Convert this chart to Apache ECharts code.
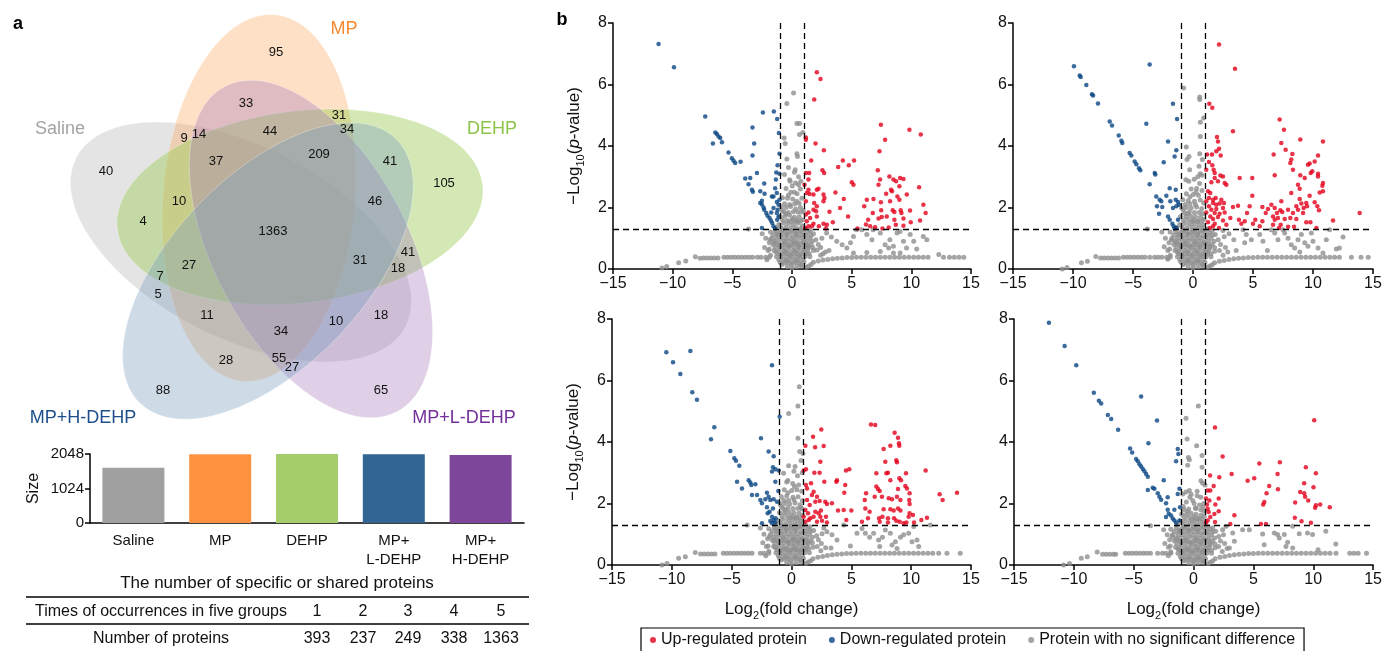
<!DOCTYPE html>
<html>
<head>
<meta charset="utf-8">
<script src="https://cdn.jsdelivr.net/npm/echarts@6/dist/echarts.min.js"></script>
<style>
  html, body { margin: 0; padding: 0; background: #fff; }
  #chart { width: 1385px; height: 651px; }
</style>
</head>
<body>
<div id="chart"></div>
<script>
// ---------- panel a data ----------
const vennSets = ['Saline', 'MP', 'DEHP', 'MP+L-DEHP', 'MP+H-DEHP'];
const vennCounts = [95, 33, 31, 34, 9, 14, 44, 37, 209, 41, 105, 40, 10, 46, 4, 1363, 27, 31, 41, 18, 7, 5, 11, 34, 10, 18, 28, 55, 27, 88, 65];
const barCategories = ['Saline', 'MP', 'DEHP', 'MP+\nL-DEHP', 'MP+\nH-DEHP'];
const barSizes = [1640, 2040, 2075, 2040, 2015];
const sizeTicks = [0, 1024, 2048];
const occurrenceTimes = [1, 2, 3, 4, 5];
const proteinCounts = [393, 237, 249, 338, 1363];

// ---------- panel b data (log2 fold change, -log10 p) ----------
const tlDown = [[-11.18,7.32],[-9.89,6.56],[-7.27,4.96],[-6.43,4.44],[-6.29,4.39],[-6.15,4.31],[-6.01,4.26],[-5.87,4.12],[-6.63,4.08],[-5.32,3.79],[-5.04,3.6],[-4.9,3.52],[-4.76,3.45],[-4.31,3.49],[-3.92,2.94],[-3.64,2.76],[-3.5,2.96],[-3.36,2.58],[-3.28,2.51],[-3.31,4.6],[-3.17,4.08],[-3.31,3.69],[-2.94,3.12],[-2.44,5.09],[-1.52,5.12],[-1.24,4.88],[-1.1,4.42],[-1.05,3.75],[-1.21,3.37],[-1.32,3.14],[-1.05,3.1],[-1.35,2.91],[-2.66,2.53],[-2.33,2.78],[-2.3,2.45],[-2.52,2.22],[-2.66,2.15],[-2.52,2.1],[-2.38,2.0],[-2.33,1.93],[-2.16,1.82],[-2.05,1.73],[-1.88,1.66],[-1.77,1.58],[-1.66,1.5],[-1.55,1.39],[-2.52,1.33],[-1.41,1.32],[-1.27,2.18],[-1.55,2.36],[-1.69,2.36],[-1.27,2.47],[-1.13,2.09],[-1.27,1.82],[-1.13,1.71],[-1.05,2.25],[-1.41,2.63],[-1.55,1.98],[-1.74,1.84],[-1.21,1.93],[-1.24,1.6]];
const tlUp = [[2.08,6.4],[2.39,6.18],[1.86,5.51],[1.16,4.28],[1.16,4.2],[1.97,4.08],[2.67,3.86],[1.61,3.53],[1.16,3.12],[1.44,3.12],[2.55,3.21],[2.69,3.12],[1.38,2.91],[1.05,2.74],[1.38,2.58],[2.22,2.61],[2.08,2.58],[2.64,2.42],[2.72,2.31],[2.64,2.2],[1.8,2.42],[1.47,2.44],[1.24,2.47],[1.16,2.2],[1.86,2.15],[2.08,2.04],[1.8,1.93],[1.38,1.84],[2.02,1.88],[1.16,1.77],[1.52,1.66],[2.08,1.71],[1.24,1.55],[1.8,1.47],[1.38,1.39],[1.1,1.33],[1.66,1.39],[2.25,1.39],[2.64,1.47],[2.83,1.32],[2.92,1.44],[3.14,1.86],[3.42,1.52],[3.64,2.49],[3.87,3.32],[4.03,1.98],[4.26,3.53],[4.34,2.28],[4.7,1.71],[4.76,3.37],[5.01,2.82],[5.15,2.74],[5.2,3.53],[5.49,1.32],[6.05,2.04],[6.27,2.25],[6.38,1.6],[6.55,1.39],[6.77,1.82],[6.83,2.28],[6.96,1.36],[7.19,3.21],[7.25,2.74],[7.38,2.91],[7.45,2.17],[7.45,4.69],[7.33,3.83],[7.47,1.91],[7.25,1.64],[7.52,1.69],[7.58,1.32],[7.8,4.2],[7.89,2.45],[7.94,1.71],[8.16,3.01],[8.22,2.2],[8.3,2.58],[8.38,2.53],[8.44,1.91],[8.5,2.91],[8.58,1.6],[8.7,1.44],[8.72,2.85],[8.58,1.85],[8.83,2.36],[9.0,2.69],[9.06,2.96],[9.0,2.25],[9.11,1.91],[9.17,1.82],[9.34,2.93],[9.34,1.64],[9.34,1.41],[9.84,4.53],[9.89,1.9],[9.95,1.52],[10.65,2.66],[10.73,1.58],[10.79,4.37],[11.01,2.09],[11.2,1.82],[9.62,2.42],[8.1,1.35],[6.2,1.45]];
const tlGray = [[0.13,5.72],[-0.43,5.38],[0.41,4.73],[0.63,4.73],[0.63,4.37],[0.91,4.44],[-0.66,4.26],[-0.57,4.08],[0.41,3.75],[0.46,3.66],[-0.43,3.58],[0.27,3.23],[-0.63,3.07],[-0.15,2.85],[0.74,2.85],[0.55,2.74],
  [-0.3,3.3],[0.2,3.15],[0.55,3.0],[-0.2,2.9],[0.3,2.8],[0.7,2.6],[-0.5,2.62],[0.02,2.7],[-0.1,2.5],[0.42,2.45],[-0.8,2.32],[-0.38,2.3],[0.05,2.28],[0.4,2.2],[0.82,2.3],[-0.9,2.02],[-0.5,2.0],[-0.12,2.03],[0.3,1.95],[0.7,2.0],[0.95,1.9],[-0.62,2.12],[-0.2,2.1],[0.22,2.12],[0.6,2.14],
  [-1.0,1.7],[-0.6,1.72],[-0.2,1.75],[0.2,1.68],[0.6,1.7],[0.9,1.6],[-0.8,1.6],[-0.4,1.58],[0.02,1.62],[0.42,1.58],[-1.1,1.45],[-0.7,1.5],[-0.3,1.48],[0.1,1.45],[0.5,1.5],[0.85,1.4],[-0.7,1.86],[-0.3,1.84],[0.12,1.86],[0.5,1.85],
  [-1.3,1.35],[-0.9,1.34],[-0.5,1.36],[-0.1,1.33],[0.3,1.35],[0.7,1.32],[-1.8,1.2],[-1.4,1.22],[-1.0,1.2],[-0.6,1.25],[-0.2,1.2],[0.2,1.22],[0.6,1.2],[1.0,1.18],[1.4,1.2],[1.8,1.15],[-1.6,1.1],[-1.2,1.1],[-0.8,1.12],[-0.4,1.1],[0.02,1.08],[0.4,1.1],[0.8,1.1],[1.2,1.1],[1.6,1.08],
  [-1.7,1.0],[-1.3,1.0],[-0.9,1.02],[-0.5,1.0],[-0.1,0.98],[0.3,1.0],[0.7,1.02],[1.1,1.0],[1.5,1.0],[2.0,0.95],[-1.5,0.9],[-1.1,0.9],[-0.7,0.92],[-0.3,0.9],[0.1,0.9],[0.5,0.88],[0.9,0.9],[1.3,0.9],[1.7,0.9],
  [-1.6,0.8],[-1.2,0.8],[-0.8,0.78],[-0.4,0.8],[0.0,0.8],[0.4,0.82],[0.8,0.8],[1.2,0.8],[1.6,0.8],[-1.4,0.7],[-1.0,0.7],[-0.6,0.7],[-0.2,0.72],[0.2,0.7],[0.6,0.7],[1.0,0.68],[1.4,0.7],
  [-1.5,0.6],[-1.1,0.6],[-0.7,0.6],[-0.3,0.6],[0.1,0.6],[0.5,0.6],[0.9,0.6],[1.3,0.6],[1.8,0.6],[-1.2,0.5],[-0.8,0.5],[-0.4,0.5],[0.0,0.5],[0.4,0.5],[0.8,0.5],[1.2,0.5],
  [-1.3,0.4],[-0.9,0.4],[-0.5,0.4],[-0.1,0.4],[0.3,0.4],[0.7,0.4],[1.1,0.4],[1.5,0.4],[-1.1,0.3],[-0.7,0.3],[-0.3,0.3],[0.1,0.3],[0.5,0.3],[0.9,0.3],[-1.0,0.22],[-0.6,0.2],[-0.2,0.2],[0.2,0.2],[0.6,0.2],[1.0,0.24],[-0.4,0.08],[0.0,0.04],[0.4,0.08],[0.8,0.1],[1.2,0.06],[1.4,0.1],[1.6,0.15],
  [-1.85,0.95],[-1.45,0.85],[-1.05,0.75],[-0.65,0.85],[-0.25,0.75],[0.15,0.85],[0.55,0.75],[0.95,0.85],[1.35,0.75],[1.75,0.7],[2.2,0.8],[2.5,1.0],[-1.35,0.55],[-0.95,0.45],[-0.55,0.55],[-0.15,0.45],[0.25,0.55],[0.65,0.45],[1.05,0.55],[1.45,0.5],[-0.85,0.15],[-0.45,0.25],[-0.05,0.15],[0.35,0.25],[0.75,0.15],[-1.25,1.15],[-0.85,1.25],[-0.45,1.15],[-0.05,1.25],[0.35,1.15],[0.75,1.25],[1.15,1.3],[1.55,1.25],[-0.5,1.8],[-0.1,1.55],[0.3,1.55],[0.7,1.55],[-0.3,2.4],[0.2,2.5],[-0.85,1.9],[0.8,1.85],[2.4,0.45],[2.8,0.55],[-2.1,0.3],[-1.9,0.65],[2.1,0.62],
  [-3.64,1.3],[-2.5,1.15],[-2.2,1.0],[-1.9,0.85],[-2.0,0.6],[-1.8,0.45],[-2.3,0.7],
  [-10.9,0.03],[-10.5,0.08],[-9.5,0.2],[-8.9,0.26],[-8.1,0.4],[-7.7,0.35],[-7.4,0.36],[-7.1,0.36],[-6.8,0.36],[-6.5,0.36],[-6.2,0.36],[-5.7,0.38],[-5.4,0.38],[-5.1,0.38],[-4.8,0.38],[-4.5,0.38],[-4.2,0.38],[-3.9,0.38],[-3.6,0.38],[-3.3,0.38],[-2.9,0.38],[-2.6,0.38],[-2.2,0.38],[-1.9,0.38],
  [1.8,0.22],[2.2,0.26],[2.6,0.29],[3.0,0.31],[3.4,0.33],[3.8,0.35],[4.2,0.36],[4.6,0.37],[5.0,0.37],[5.4,0.38],[5.8,0.38],[6.2,0.38],[6.6,0.38],[7.0,0.38],[7.4,0.38],[7.8,0.38],[8.2,0.38],[8.6,0.38],[9.0,0.38],[9.4,0.38],[9.8,0.38],[10.2,0.38],[10.6,0.38],[11.0,0.38],[11.4,0.38],[12.3,0.47],[12.7,0.38],[13.2,0.38],[13.6,0.38],[14.0,0.38],[14.4,0.38],
  [2.9,1.17],[3.3,1.04],[3.75,0.9],[4.2,0.79],[4.6,0.68],[4.9,0.85],[5.15,1.06],[5.4,1.28],[5.85,1.28],[6.27,1.12],[6.7,0.95],[6.8,1.28],[7.4,1.17],[7.8,0.79],[8.1,0.68],[8.2,0.95],[8.5,0.74],[8.8,1.17],[9.06,1.22],[9.34,0.9],[9.6,0.68],[9.9,1.12],[10.2,0.9],[10.45,0.65],[11.0,1.06],[11.3,0.95],[9.06,0.52],[7.4,0.57],[6.27,0.54],[5.15,0.52],[8.5,0.52],[2.4,0.7],[2.6,0.5],[3.1,0.6]];

const trDown = [[-9.92,6.59],[-9.44,6.29],[-9.36,6.24],[-8.89,5.98],[-8.42,5.68],[-8.33,5.64],[-7.92,5.38],[-6.94,4.8],[-6.75,4.67],[-6.19,4.34],[-5.97,4.17],[-5.89,4.1],[-5.28,3.77],[-5.14,3.69],[-4.86,3.5],[-4.72,3.41],[-4.5,3.28],[-4.39,3.21],[-3.61,6.65],[-3.89,4.72],[-3.19,3.12],[-3.14,3.07],[-3.61,2.76],[-2.44,3.47],[-2.08,4.15],[-1.67,5.37],[-1.33,4.88],[-1.39,3.86],[-1.53,3.66],[-1.94,2.63],[-1.44,2.58],[-3.06,2.36],[-2.78,2.25],[-2.64,2.2],[-2.56,2.02],[-3.0,2.04],[-2.83,1.8],[-2.22,2.38],[-1.89,2.2],[-1.44,2.25],[-1.25,2.18],[-1.17,2.09],[-1.67,1.98],[-2.08,1.71],[-1.94,1.6],[-1.72,1.47],[-1.61,1.39],[-1.53,1.32],[-1.39,1.34],[-1.25,1.6],[-1.39,2.04]];
const trUp = [[2.17,7.3],[3.5,6.51],[1.36,5.37],[1.61,5.24],[7.22,4.86],[3.33,4.48],[7.58,4.53],[8.94,4.21],[10.83,4.15],[2.0,4.29],[2.08,4.15],[7.36,4.1],[7.72,3.88],[1.17,3.72],[1.58,3.72],[2.17,3.91],[1.94,3.83],[2.31,3.69],[6.72,3.72],[8.28,3.74],[10.42,3.69],[8.19,3.56],[8.11,3.45],[10.14,3.5],[1.33,3.48],[1.61,3.37],[1.72,3.23],[9.72,3.43],[9.58,3.39],[1.11,3.23],[8.33,3.23],[1.81,3.12],[9.94,3.18],[9.81,3.12],[10.42,3.1],[10.42,3.01],[6.81,3.05],[8.94,3.05],[2.28,3.04],[2.5,3.01],[1.81,2.96],[3.89,2.96],[4.94,2.96],[9.31,2.96],[10.83,2.8],[10.78,2.71],[2.64,2.8],[2.78,2.74],[2.08,2.85],[1.53,2.82],[8.75,2.74],[8.89,2.61],[10.83,2.53],[10.56,2.49],[1.25,2.53],[1.44,2.47],[8.19,2.47],[1.33,2.31],[4.94,2.38],[9.72,2.38],[8.89,2.28],[1.67,2.25],[1.89,2.31],[2.36,2.25],[1.11,2.2],[7.36,2.2],[9.44,2.15],[9.03,2.13],[10.14,2.17],[1.67,2.15],[1.94,2.09],[2.22,2.13],[2.58,2.15],[1.33,2.04],[5.78,2.02],[6.53,2.09],[10.36,2.04],[8.61,2.04],[9.5,2.04],[1.53,1.93],[1.94,1.95],[2.5,1.98],[3.33,2.02],[3.75,2.06],[4.72,2.04],[6.25,1.95],[6.81,1.98],[7.28,1.91],[7.92,1.93],[8.75,1.93],[9.22,1.98],[1.11,1.84],[1.81,1.82],[2.22,1.8],[2.64,1.84],[4.5,1.82],[6.06,1.82],[7.0,1.82],[7.44,1.85],[8.33,1.82],[9.17,1.82],[10.5,1.91],[13.89,1.82],[1.44,1.71],[1.67,1.63],[2.08,1.69],[2.5,1.58],[3.11,1.66],[3.83,1.6],[4.31,1.55],[5.19,1.6],[5.78,1.55],[6.67,1.71],[6.81,1.6],[7.08,1.66],[7.64,1.63],[8.11,1.66],[8.61,1.63],[9.44,1.52],[9.78,1.52],[11.67,1.58],[1.25,1.52],[1.81,1.47],[2.78,1.44],[4.03,1.47],[5.0,1.47],[6.67,1.44],[7.31,1.44],[7.92,1.37],[8.42,1.37],[10.28,1.33],[1.39,1.33],[1.67,1.39],[2.17,1.33],[5.56,1.39],[7.17,1.33]];
const trGray = [[-0.78,5.89],[0.56,5.59],[0.56,5.51],[0.89,4.91],[0.61,4.77],[0.61,4.31],[0.56,3.75],[-0.56,3.97],[-0.33,3.66],[-0.5,3.56],[0.78,3.56],[0.5,3.34],[-0.28,3.23],[0.6,3.1],[0.4,3.0],[-0.6,2.9],[0.75,3.05],
  [-0.35,2.85],[0.1,2.92],[0.55,2.78],[-0.15,2.6],[0.3,2.62],[0.75,2.55],[-0.55,2.45],[0.02,2.42],[0.45,2.4],[-0.85,2.25],[-0.4,2.22],[0.12,2.2],[0.6,2.24],[0.9,2.15],[-0.95,1.98],[-0.55,2.0],[-0.15,1.98],[0.3,2.02],[0.72,1.96],[-0.65,2.1],[-0.25,2.12],[0.2,2.1],[-0.7,1.82],[-0.3,1.86],[0.12,1.84],[0.52,1.84],
  [-1.05,1.7],[-0.6,1.7],[-0.2,1.72],[0.2,1.7],[0.62,1.68],[0.92,1.62],[-0.8,1.58],[-0.4,1.6],[0.0,1.6],[0.42,1.56],[-1.1,1.45],[-0.7,1.48],[-0.3,1.46],[0.1,1.47],[0.5,1.45],[0.86,1.42],
  [-1.35,1.34],[-0.9,1.35],[-0.5,1.33],[-0.1,1.36],[0.3,1.34],[0.7,1.33],[-1.9,1.2],[-1.45,1.22],[-1.0,1.2],[-0.6,1.22],[-0.2,1.2],[0.2,1.2],[0.6,1.22],[1.0,1.2],[1.4,1.18],[1.85,1.12],[-1.6,1.1],[-1.2,1.1],[-0.8,1.1],[-0.4,1.12],[0.0,1.1],[0.4,1.1],[0.8,1.08],[1.2,1.1],[1.6,1.1],
  [-1.75,1.0],[-1.3,1.0],[-0.9,1.0],[-0.5,1.02],[-0.1,1.0],[0.3,1.0],[0.7,1.0],[1.1,1.02],[1.5,1.0],[2.1,0.95],[-1.5,0.9],[-1.1,0.9],[-0.7,0.9],[-0.3,0.92],[0.1,0.9],[0.5,0.9],[0.9,0.88],[1.3,0.9],[1.75,0.9],
  [-1.6,0.8],[-1.2,0.8],[-0.8,0.8],[-0.4,0.78],[0.0,0.8],[0.4,0.8],[0.8,0.82],[1.2,0.8],[1.6,0.8],[-1.4,0.7],[-1.0,0.7],[-0.6,0.72],[-0.2,0.7],[0.2,0.7],[0.6,0.7],[1.0,0.7],[1.4,0.68],
  [-1.5,0.6],[-1.1,0.6],[-0.7,0.6],[-0.3,0.6],[0.1,0.62],[0.5,0.6],[0.9,0.6],[1.3,0.6],[1.8,0.58],[-1.2,0.5],[-0.8,0.5],[-0.4,0.5],[0.0,0.5],[0.4,0.5],[0.8,0.5],[1.2,0.5],
  [-1.3,0.4],[-0.9,0.4],[-0.5,0.4],[-0.1,0.4],[0.3,0.4],[0.7,0.4],[1.1,0.4],[1.5,0.4],[-1.1,0.3],[-0.7,0.3],[-0.3,0.3],[0.1,0.3],[0.5,0.3],[0.9,0.3],[-1.0,0.22],[-0.6,0.2],[-0.2,0.2],[0.2,0.2],[0.6,0.2],[1.0,0.22],[-0.4,0.08],[0.0,0.04],[0.4,0.08],[0.8,0.1],[1.2,0.06],[1.4,0.1],[1.6,0.14],
  [-1.8,0.95],[-1.4,0.85],[-1.0,0.75],[-0.6,0.85],[-0.2,0.75],[0.2,0.85],[0.6,0.75],[1.0,0.85],[1.4,0.75],[1.8,0.7],[2.3,0.8],[2.6,1.05],[-1.3,0.55],[-0.9,0.45],[-0.5,0.55],[-0.1,0.45],[0.3,0.55],[0.7,0.45],[1.1,0.55],[1.5,0.5],[-0.8,0.15],[-0.4,0.25],[0.0,0.15],[0.4,0.25],[0.8,0.15],[-1.2,1.15],[-0.8,1.25],[-0.4,1.15],[0.0,1.25],[0.4,1.15],[0.8,1.25],[1.2,1.3],[1.6,1.25],[-0.45,1.8],[-0.05,1.55],[0.35,1.55],[0.75,1.55],[-0.25,2.35],[0.25,2.5],[-0.8,1.92],[0.82,1.8],[2.5,0.45],[2.9,0.55],[-2.1,0.32],[-1.95,0.65],[2.2,0.6],
  [-3.8,1.3],[-2.6,1.2],[-2.3,1.0],[-2.0,0.85],[-2.1,0.6],[-1.9,0.45],[-2.4,0.72],
  [-10.9,0.0],[-10.5,0.05],[-9.3,0.2],[-8.8,0.25],[-8.1,0.41],[-7.7,0.36],[-7.4,0.36],[-7.1,0.36],[-6.8,0.36],[-6.5,0.36],[-6.2,0.36],[-5.8,0.38],[-5.5,0.38],[-5.2,0.38],[-4.9,0.38],[-4.6,0.38],[-4.3,0.38],[-4.0,0.38],[-3.6,0.38],[-3.2,0.38],[-2.9,0.38],[-2.6,0.38],[-2.2,0.38],[-1.9,0.38],
  [1.8,0.2],[2.2,0.25],[2.6,0.28],[3.0,0.31],[3.4,0.33],[3.8,0.35],[4.2,0.36],[4.6,0.37],[5.0,0.37],[5.4,0.38],[5.8,0.38],[6.2,0.38],[6.6,0.38],[7.0,0.38],[7.4,0.38],[7.8,0.38],[8.2,0.38],[8.6,0.38],[9.0,0.38],[9.4,0.38],[9.8,0.38],[10.2,0.38],[10.6,0.38],[11.0,0.38],[11.4,0.38],[11.8,0.38],[12.2,0.38],[13.2,0.38],[14.0,0.38],[14.6,0.38],
  [4.17,1.28],[4.44,1.12],[4.31,0.85],[4.86,0.95],[5.56,1.12],[5.83,0.9],[6.53,1.28],[6.81,1.17],[7.08,0.95],[7.5,1.28],[7.64,1.17],[7.92,1.0],[8.19,0.79],[8.47,0.68],[8.75,0.95],[9.03,1.12],[9.31,0.85],[9.58,0.74],[9.86,1.17],[10.0,0.9],[10.42,0.68],[10.83,0.52],[11.39,1.28],[11.11,0.95],[11.94,0.65],[12.5,1.04],[12.2,0.68],[3.0,1.15],[3.4,0.95],[2.5,1.25],[2.7,0.7],[3.6,0.6],[6.2,0.6],[8.9,0.55]];

const blDown = [[-10.46,6.92],[-9.9,6.59],[-8.45,6.96],[-9.29,6.21],[-8.29,5.62],[-7.9,5.37],[-6.45,4.48],[-6.73,4.09],[-5.11,3.71],[-4.78,3.47],[-4.64,3.39],[-4.36,3.23],[-4.55,2.71],[-4.14,2.49],[-3.58,2.76],[-3.44,2.68],[-3.36,2.6],[-3.02,2.63],[-3.3,2.28],[-2.88,2.28],[-2.55,4.12],[-1.91,3.69],[-1.63,6.5],[-0.99,4.82],[-1.49,3.54],[-1.55,3.18],[-1.35,3.11],[-1.07,3.07],[-1.63,3.04],[-1.35,2.71],[-1.1,2.41],[-2.05,2.35],[-1.91,2.22],[-2.19,2.14],[-2.6,2.11],[-2.47,2.01],[-1.77,2.11],[-1.49,2.14],[-1.21,2.06],[-2.05,1.88],[-1.55,1.84],[-1.83,1.73],[-1.99,1.68],[-2.47,1.36],[-1.63,1.57],[-1.49,1.46],[-1.77,1.43],[-1.35,1.38],[-1.63,1.36],[-1.32,1.52]];
const blUp = [[1.8,4.17],[2.49,4.41],[2.69,3.87],[1.16,3.88],[1.97,3.83],[6.64,4.57],[7.0,4.55],[8.62,4.3],[8.9,4.14],[8.98,3.96],[9.01,3.88],[7.7,3.77],[8.26,3.88],[7.84,3.36],[8.76,3.41],[8.81,3.34],[2.41,3.36],[1.02,3.07],[1.21,3.11],[1.91,3.0],[2.35,3.0],[2.74,2.71],[4.55,3.07],[4.83,3.11],[11.21,3.07],[3.8,2.76],[3.75,2.71],[7.09,2.98],[7.93,2.98],[8.06,3.0],[9.57,2.98],[9.01,2.82],[9.15,2.76],[8.26,2.76],[4.49,2.6],[1.21,2.6],[1.63,2.66],[7.09,2.55],[7.23,2.47],[7.37,2.41],[9.51,2.57],[9.65,2.49],[8.9,2.47],[6.23,2.33],[1.85,2.38],[1.3,2.49],[4.41,2.35],[9.87,2.33],[12.38,2.3],[13.83,2.35],[12.63,2.11],[6.12,2.11],[6.95,2.22],[7.56,2.22],[8.12,2.17],[8.4,2.14],[8.81,2.22],[9.1,2.11],[1.71,2.28],[2.13,2.22],[1.3,2.11],[1.99,2.06],[2.82,2.06],[2.96,1.98],[3.38,2.01],[1.52,1.95],[2.35,2.08],[9.84,2.11],[9.87,1.98],[6.17,1.84],[7.7,1.81],[8.26,1.81],[8.54,1.77],[8.9,1.84],[9.1,1.77],[9.87,1.68],[10.15,1.63],[1.16,1.79],[1.38,1.68],[1.99,1.73],[2.27,1.68],[2.46,1.77],[3.89,1.77],[4.36,1.79],[5.0,1.77],[6.53,1.73],[1.02,1.57],[1.57,1.52],[1.85,1.57],[2.41,1.57],[2.88,1.57],[6.39,1.52],[7.32,1.52],[7.6,1.57],[8.06,1.52],[8.57,1.52],[8.76,1.44],[9.79,1.57],[11.32,1.54],[1.16,1.41],[1.44,1.46],[2.13,1.41],[2.55,1.44],[2.96,1.38],[4.58,1.46],[5.89,1.41],[7.37,1.41],[8.06,1.38],[9.04,1.41],[9.6,1.38],[10.24,1.38],[10.85,1.46],[9.37,1.36]];
const blGray = [[0.65,5.8],[0.54,5.17],[-0.24,4.93],[0.54,4.12],[0.68,3.69],[0.96,3.63],[-0.24,3.23],[-0.66,2.98],[0.3,3.2],[0.8,3.4],[0.5,2.9],[0.9,3.0],[-0.4,2.7],[0.2,3.05],
  [-0.3,2.75],[0.1,2.65],[0.6,2.6],[-0.6,2.45],[0.02,2.42],[0.45,2.45],[0.85,2.4],[-0.85,2.22],[-0.4,2.24],[0.12,2.2],[0.55,2.22],[0.92,2.1],[-0.95,1.98],[-0.55,2.0],[-0.15,1.98],[0.3,2.02],[0.72,1.96],[-0.65,2.1],[-0.25,2.1],[0.2,2.12],[-0.7,1.84],[-0.3,1.86],[0.12,1.84],[0.52,1.84],[0.9,1.82],
  [-1.0,1.7],[-0.6,1.7],[-0.2,1.72],[0.2,1.7],[0.62,1.68],[0.92,1.62],[-0.8,1.58],[-0.4,1.6],[0.0,1.6],[0.42,1.56],[-1.1,1.45],[-0.7,1.48],[-0.3,1.46],[0.1,1.47],[0.5,1.45],[0.86,1.42],
  [-1.35,1.34],[-0.9,1.35],[-0.5,1.33],[-0.1,1.36],[0.3,1.34],[0.7,1.33],[-1.9,1.18],[-1.45,1.22],[-1.0,1.2],[-0.6,1.22],[-0.2,1.2],[0.2,1.2],[0.6,1.22],[1.0,1.2],[1.4,1.18],[1.85,1.12],[-1.6,1.1],[-1.2,1.1],[-0.8,1.1],[-0.4,1.12],[0.0,1.1],[0.4,1.1],[0.8,1.08],[1.2,1.1],[1.6,1.1],
  [-1.75,1.0],[-1.3,1.0],[-0.9,1.0],[-0.5,1.02],[-0.1,1.0],[0.3,1.0],[0.7,1.0],[1.1,1.02],[1.5,1.0],[2.1,0.95],[-1.5,0.9],[-1.1,0.9],[-0.7,0.9],[-0.3,0.92],[0.1,0.9],[0.5,0.9],[0.9,0.88],[1.3,0.9],[1.75,0.9],
  [-1.6,0.8],[-1.2,0.8],[-0.8,0.8],[-0.4,0.78],[0.0,0.8],[0.4,0.8],[0.8,0.82],[1.2,0.8],[1.6,0.8],[-1.4,0.7],[-1.0,0.7],[-0.6,0.72],[-0.2,0.7],[0.2,0.7],[0.6,0.7],[1.0,0.7],[1.4,0.68],
  [-1.5,0.6],[-1.1,0.6],[-0.7,0.6],[-0.3,0.6],[0.1,0.62],[0.5,0.6],[0.9,0.6],[1.3,0.6],[1.8,0.58],[-1.2,0.5],[-0.8,0.5],[-0.4,0.5],[0.0,0.5],[0.4,0.5],[0.8,0.5],[1.2,0.5],
  [-1.3,0.4],[-0.9,0.4],[-0.5,0.4],[-0.1,0.4],[0.3,0.4],[0.7,0.4],[1.1,0.4],[1.5,0.4],[-1.1,0.3],[-0.7,0.3],[-0.3,0.3],[0.1,0.3],[0.5,0.3],[0.9,0.3],[-1.0,0.22],[-0.6,0.2],[-0.2,0.2],[0.2,0.2],[0.6,0.2],[1.0,0.22],[-0.4,0.08],[0.0,0.04],[0.4,0.08],[0.8,0.1],[1.2,0.06],[1.4,0.1],[1.6,0.14],
  [-1.85,0.92],[-1.45,0.82],[-1.05,0.76],[-0.65,0.86],[-0.25,0.76],[0.15,0.84],[0.55,0.76],[0.95,0.84],[1.35,0.76],[1.75,0.72],[2.25,0.82],[2.55,1.02],[-1.35,0.56],[-0.95,0.46],[-0.55,0.54],[-0.15,0.46],[0.25,0.54],[0.65,0.46],[1.05,0.54],[1.45,0.52],[-0.85,0.16],[-0.45,0.24],[-0.05,0.14],[0.35,0.24],[0.75,0.16],[-1.25,1.16],[-0.85,1.26],[-0.45,1.16],[-0.05,1.26],[0.35,1.16],[0.75,1.26],[1.15,1.3],[1.55,1.24],[-0.5,1.78],[-0.1,1.54],[0.3,1.54],[0.7,1.54],[-0.3,2.35],[0.25,2.55],[-0.85,1.9],[0.8,1.86],[2.45,0.46],[2.85,0.56],[-2.15,0.3],[-1.95,0.62],[2.15,0.6],
  [-3.7,1.3],[-2.6,1.2],[-2.3,1.0],[-2.0,0.85],[-2.1,0.6],[-1.9,0.45],[-2.4,0.72],
  [-10.82,0.0],[-10.4,0.05],[-9.43,0.22],[-8.87,0.27],[-8.04,0.41],[-7.6,0.36],[-7.3,0.36],[-7.0,0.36],[-6.7,0.36],[-6.4,0.36],[-5.7,0.38],[-5.4,0.38],[-5.1,0.38],[-4.8,0.38],[-4.5,0.38],[-4.2,0.38],[-3.9,0.38],[-3.6,0.38],[-3.3,0.38],[-2.6,0.38],[-2.3,0.38],[-1.9,0.38],
  [1.8,0.2],[2.2,0.25],[2.6,0.28],[3.0,0.31],[3.4,0.33],[3.8,0.35],[4.2,0.36],[4.6,0.37],[5.0,0.37],[5.4,0.38],[5.8,0.38],[6.2,0.38],[6.6,0.38],[7.0,0.38],[7.4,0.38],[7.8,0.38],[8.2,0.38],[8.6,0.38],[9.0,0.38],[9.4,0.38],[9.8,0.38],[10.2,0.38],[10.6,0.38],[11.0,0.38],[11.4,0.38],[11.8,0.38],[12.3,0.38],[12.99,0.38],[14.1,0.38],
  [4.36,1.3],[5.89,1.19],[6.17,1.03],[6.53,0.9],[6.86,1.03],[7.28,0.81],[7.6,0.9],[7.84,1.14],[8.26,1.03],[8.4,0.65],[8.68,0.76],[9.1,0.9],[9.37,0.98],[9.79,1.03],[10.07,0.76],[10.49,0.81],[10.63,0.6],[10.21,1.25],[11.6,1.3],[3.8,0.81],[3.38,0.98],[4.92,0.62],[2.96,1.08],[5.47,1.03],[7.37,0.6],[8.82,0.54],[2.5,0.7],[2.7,1.2],[3.3,0.55]];

const brDown = [[-12.08,7.88],[-10.77,7.12],[-9.8,6.5],[-8.33,5.6],[-7.91,5.34],[-7.72,5.25],[-7.16,4.88],[-6.88,4.75],[-6.3,4.4],[-4.38,5.48],[-3.05,4.7],[-3.77,3.96],[-5.3,3.79],[-5.13,3.66],[-4.8,3.45],[-4.66,3.37],[-4.52,3.28],[-4.38,3.2],[-4.24,3.12],[-4.1,3.05],[-3.96,2.96],[-3.82,2.87],[-3.82,2.44],[-3.41,2.51],[-3.27,2.48],[-2.99,2.33],[-2.85,2.22],[-2.71,2.12],[-2.49,2.76],[-2.16,2.2],[-2.3,2.01],[-2.16,1.8],[-2.3,1.56],[-2.07,1.67],[-1.88,1.61],[-1.74,1.51],[-1.6,1.45],[-1.46,1.37],[-1.6,1.8],[-1.32,3.77],[-1.27,3.61],[-1.46,3.37],[-1.18,2.48],[-1.32,2.31],[-1.13,1.88],[-1.18,1.45]];
const brUp = [[1.79,4.47],[10.08,4.71],[2.43,3.53],[5.49,3.3],[7.21,3.34],[9.38,3.18],[3.18,2.96],[7.02,2.96],[10.22,2.98],[1.38,2.91],[2.15,2.85],[4.52,2.74],[5.07,2.82],[9.24,2.66],[6.32,2.57],[1.68,2.57],[10.02,2.53],[1.18,2.42],[1.4,2.42],[7.05,2.46],[6.1,2.33],[8.91,2.37],[9.24,2.33],[9.32,2.22],[2.1,2.16],[1.04,2.16],[1.32,2.1],[9.58,2.1],[5.91,2.05],[5.82,1.97],[8.49,2.03],[1.12,1.97],[1.82,1.97],[10.22,1.94],[10.58,1.97],[1.18,1.83],[10.16,1.86],[11.38,1.88],[2.1,1.75],[1.74,1.66],[1.26,1.72],[3.41,1.62],[8.46,1.54],[1.4,1.56],[1.18,1.45],[1.79,1.4],[9.02,1.42],[9.8,1.37],[3.07,1.33],[5.63,1.33],[6.05,1.33],[1.04,1.38]];
const brGray = [[0.4,5.17],[-0.63,4.77],[-0.54,4.1],[0.26,3.88],[-0.43,3.5],[-0.35,3.42],[0.71,3.56],[0.71,3.18],[-0.49,3.24],[0.62,2.74],[0.76,2.66],[0.96,2.6],[-0.63,2.37],[-0.35,2.42],[-0.9,2.31],[-0.07,2.1],[0.2,1.84],
  [-0.3,2.2],[0.3,2.25],[0.6,2.2],[-0.6,2.05],[0.05,2.0],[0.5,1.95],[0.85,2.0],[-0.8,1.8],[-0.4,1.82],[0.15,1.85],[0.6,1.8],[0.9,1.75],
  [-1.0,1.65],[-0.6,1.65],[-0.2,1.68],[0.2,1.65],[0.62,1.63],[0.9,1.58],[-0.8,1.55],[-0.4,1.55],[0.0,1.56],[0.42,1.52],[-1.1,1.42],[-0.7,1.44],[-0.3,1.42],[0.1,1.43],[0.5,1.42],[0.86,1.4],
  [-1.35,1.3],[-0.9,1.32],[-0.5,1.3],[-0.1,1.33],[0.3,1.3],[0.7,1.3],[-1.9,1.16],[-1.45,1.2],[-1.0,1.18],[-0.6,1.2],[-0.2,1.18],[0.2,1.18],[0.6,1.2],[1.0,1.18],[1.4,1.16],[1.85,1.1],[-1.6,1.08],[-1.2,1.08],[-0.8,1.08],[-0.4,1.1],[0.0,1.08],[0.4,1.08],[0.8,1.06],[1.2,1.08],[1.6,1.08],
  [-1.75,0.98],[-1.3,0.98],[-0.9,0.98],[-0.5,1.0],[-0.1,0.98],[0.3,0.98],[0.7,0.98],[1.1,1.0],[1.5,0.98],[2.1,0.93],[-1.5,0.88],[-1.1,0.88],[-0.7,0.88],[-0.3,0.9],[0.1,0.88],[0.5,0.88],[0.9,0.86],[1.3,0.88],[1.75,0.88],
  [-1.6,0.78],[-1.2,0.78],[-0.8,0.78],[-0.4,0.76],[0.0,0.78],[0.4,0.78],[0.8,0.8],[1.2,0.78],[1.6,0.78],[-1.4,0.68],[-1.0,0.68],[-0.6,0.7],[-0.2,0.68],[0.2,0.68],[0.6,0.68],[1.0,0.68],[1.4,0.66],
  [-1.5,0.58],[-1.1,0.58],[-0.7,0.58],[-0.3,0.58],[0.1,0.6],[0.5,0.58],[0.9,0.58],[1.3,0.58],[1.8,0.56],[-1.2,0.48],[-0.8,0.48],[-0.4,0.48],[0.0,0.48],[0.4,0.48],[0.8,0.48],[1.2,0.48],
  [-1.3,0.38],[-0.9,0.38],[-0.5,0.38],[-0.1,0.38],[0.3,0.38],[0.7,0.38],[1.1,0.38],[1.5,0.38],[-1.1,0.28],[-0.7,0.28],[-0.3,0.28],[0.1,0.28],[0.5,0.28],[0.9,0.28],[-1.0,0.2],[-0.6,0.18],[-0.2,0.18],[0.2,0.18],[0.6,0.18],[1.0,0.2],[-0.4,0.07],[0.0,0.03],[0.4,0.07],[0.8,0.08],[1.2,0.05],[1.4,0.09],[1.6,0.13],
  [-1.8,0.93],[-1.4,0.83],[-1.0,0.73],[-0.6,0.83],[-0.2,0.73],[0.2,0.83],[0.6,0.73],[1.0,0.83],[1.4,0.73],[1.8,0.68],[2.25,0.78],[2.5,0.98],[-1.3,0.53],[-0.9,0.43],[-0.5,0.53],[-0.1,0.43],[0.3,0.53],[0.7,0.43],[1.1,0.53],[1.5,0.48],[-0.8,0.13],[-0.4,0.23],[0.0,0.13],[0.4,0.23],[0.8,0.13],[-1.2,1.13],[-0.8,1.23],[-0.4,1.13],[0.0,1.23],[0.4,1.13],[0.8,1.23],[1.2,1.26],[1.6,1.2],[-0.5,1.74],[-0.1,1.5],[0.3,1.5],[0.7,1.5],[-0.2,2.3],[0.3,2.4],[-0.85,1.9],[0.8,1.88],[2.4,0.44],[2.8,0.54],[-2.1,0.3],[-1.95,0.62],[2.1,0.6],
  [-3.6,1.28],[-2.5,1.15],[-2.2,0.98],[-2.0,0.82],[-2.1,0.58],[-1.9,0.43],[-2.4,0.7],
  [-10.86,0.0],[-10.36,0.05],[-9.38,0.22],[-8.88,0.27],[-8.05,0.42],[-7.6,0.35],[-7.3,0.35],[-7.0,0.35],[-6.7,0.35],[-6.5,0.35],[-5.7,0.38],[-5.4,0.38],[-5.1,0.38],[-4.8,0.38],[-4.5,0.38],[-4.2,0.38],[-3.9,0.38],[-3.6,0.38],[-3.0,0.38],[-2.6,0.38],[-2.3,0.38],[-1.9,0.38],
  [1.8,0.2],[2.2,0.25],[2.6,0.28],[3.0,0.31],[3.4,0.33],[3.8,0.35],[4.2,0.36],[4.6,0.37],[5.0,0.37],[5.4,0.38],[5.8,0.38],[6.2,0.38],[6.6,0.38],[7.0,0.38],[7.4,0.38],[7.8,0.38],[8.2,0.38],[8.6,0.38],[9.0,0.38],[9.4,0.38],[9.8,0.38],[10.2,0.38],[10.6,0.38],[11.0,0.38],[11.4,0.38],[11.9,0.38],[13.05,0.38],[13.4,0.38],[13.75,0.38],[14.45,0.38],
  [2.43,1.15],[2.71,1.26],[3.27,1.04],[3.41,0.77],[4.1,1.15],[4.66,1.15],[5.77,1.01],[5.9,0.66],[6.74,1.04],[7.02,0.99],[7.16,0.88],[7.58,0.99],[7.86,0.74],[7.72,0.6],[8.28,0.55],[8.83,1.02],[9.52,1.04],[9.94,0.99],[11.05,1.1],[11.88,0.68],[8.28,1.26],[2.6,0.7],[3.0,0.55],[10.4,0.5]];

// ---------- layout ----------
const FONT = "'Liberation Sans', Arial, Helvetica, sans-serif";
const UP_COLOR = '#e3001b', DOWN_COLOR = '#0a4683', NS_COLOR = '#8f8f8f';
const legendNames = ['Up-regulated protein', 'Down-regulated protein', 'Protein with no significant difference'];

// ellipse geometry for the five sets (centre, radii, rotation in degrees)
const vennShapes = [
  { cx: 241, cy: 242, rx: 185, ry: 96, rot: -27, fill: 'rgba(190,190,190,0.42)', label: [60, 129], color: '#a3a3a3' },
  { cx: 259, cy: 198, rx: 184, ry: 96, rot: 85, fill: 'rgba(249,166,89,0.35)', label: [344, 29], color: '#f7892f' },
  { cx: 300, cy: 207, rx: 184, ry: 96, rot: 7, fill: 'rgba(157,204,88,0.45)', label: [492, 129], color: '#8cc44a' },
  { cx: 311, cy: 249, rx: 184, ry: 97, rot: -62, fill: 'rgba(164,121,189,0.35)', label: [464, 418], color: '#74309a' },
  { cx: 268, cy: 271, rx: 184, ry: 96, rot: 46, fill: 'rgba(118,155,189,0.36)', label: [83, 418], color: '#1d4f8c' }
];
const vennSpots = [[276,52],[246,103],[339,115],[347,129],[184,138],[199,134],[270,131],[216,161],[319,154],[390,161],[444,183],[106,171],[179,201],[375,201],[143,221],[273,231],[189,265],[360,260],[408,252],[398,268],[160,276],[158,294],[207,315],[281,331],[336,321],[381,315],[226,360],[279,358],[292,367],[163,390],[381,390]];
const barColors = ['#a0a0a0', '#fd9241', '#a6cd6b', '#336592', '#7e479c'];
const tableCols = [317, 363, 408, 454, 501];

const graphics = [];
vennShapes.forEach((s) => {
  graphics.push({
    type: 'ellipse', x: s.cx, y: s.cy, rotation: s.rot * Math.PI / 180,
    shape: { cx: 0, cy: 0, rx: s.rx, ry: s.ry },
    style: { fill: s.fill, stroke: 'rgba(255,255,255,0.35)', lineWidth: 0.8 }, z: 1
  });
});
vennShapes.forEach((s, i) => {
  graphics.push({
    type: 'text', x: s.label[0], y: s.label[1], z: 3,
    style: { text: vennSets[i], fill: s.color, fontSize: 18, fontFamily: FONT, align: 'center', verticalAlign: 'middle' }
  });
});
vennCounts.forEach((c, i) => {
  graphics.push({
    type: 'text', x: vennSpots[i][0], y: vennSpots[i][1], z: 3,
    style: { text: String(c), fill: '#111', fontSize: 13, fontFamily: FONT, align: 'center', verticalAlign: 'middle' }
  });
});
const txt = (t, x, y, size, opt) => Object.assign({
  type: 'text', x: x, y: y, z: 3,
  style: Object.assign({ text: t, fill: '#111', fontSize: size, fontFamily: FONT, align: 'center', verticalAlign: 'middle' }, opt || {})
});
graphics.push(txt('a', 18, 24, 18, { fontWeight: 'bold', fill: '#000' }));
graphics.push(txt('b', 562, 20, 18, { fontWeight: 'bold', fill: '#000' }));
graphics.push(txt('The number of specific or shared proteins', 277, 583, 17));
graphics.push({ type: 'line', shape: { x1: 26, y1: 597, x2: 529, y2: 597 }, style: { stroke: '#000', lineWidth: 1.5 } });
graphics.push({ type: 'line', shape: { x1: 26, y1: 624, x2: 529, y2: 624 }, style: { stroke: '#000', lineWidth: 1.5 } });
graphics.push(txt('Times of occurrences in five groups', 161, 612, 16));
graphics.push(txt('Number of proteins', 161, 639, 16));
occurrenceTimes.forEach((t, i) => graphics.push(txt(String(t), tableCols[i], 612, 16)));
proteinCounts.forEach((n, i) => graphics.push(txt(String(n), tableCols[i], 639, 16)));

// ---------- volcano panels ----------
const panels = [
  { up: tlUp, down: tlDown, ns: tlGray, grid: { left: 613, top: 23, width: 358, height: 246 }, xName: false, yName: true },
  { up: trUp, down: trDown, ns: trGray, grid: { left: 1013, top: 23, width: 360, height: 246 }, xName: false, yName: false },
  { up: blUp, down: blDown, ns: blGray, grid: { left: 612, top: 319, width: 359, height: 246 }, xName: true, yName: true },
  { up: brUp, down: brDown, ns: brGray, grid: { left: 1014, top: 319, width: 360, height: 246 }, xName: true, yName: false }
];

const axisLine = { show: true, onZero: false, lineStyle: { color: '#000', width: 1.5 } };
const axisTick = { show: true, length: 5, lineStyle: { color: '#000', width: 1.5 } };
const minus = (v) => String(v).replace('-', '\u2212');
const subRich = {
  sub: { fontSize: 11, fontFamily: FONT, color: '#111', lineHeight: 12, verticalAlign: 'bottom', padding: [0, 0, -3, 0] },
  it: { fontSize: 17, fontFamily: FONT, color: '#111', fontStyle: 'italic' }
};

const grids = [{ left: 90, top: 454, width: 434, height: 69 }];
const xAxes = [{
  gridIndex: 0, type: 'category', data: barCategories,
  axisLine: { show: true, lineStyle: { color: '#000', width: 1.5 } },
  axisTick: { show: false },
  axisLabel: { color: '#111', fontSize: 15, fontFamily: FONT, margin: 8, lineHeight: 19 }
}];
const yAxes = [{
  gridIndex: 0, type: 'value', min: sizeTicks[0], max: sizeTicks[2], interval: sizeTicks[1],
  axisLine: { show: true, lineStyle: { color: '#000', width: 1.5 } },
  axisTick: { show: true, length: 5, lineStyle: { color: '#000', width: 1.5 } },
  axisLabel: { color: '#111', fontSize: 15, fontFamily: FONT, margin: 6, formatter: (v) => String(v) },
  splitLine: { show: false },
  name: 'Size', nameLocation: 'middle', nameRotate: 90, nameGap: 48,
  nameTextStyle: { color: '#111', fontSize: 16, fontFamily: FONT }
}];
const series = [{
  type: 'bar', xAxisIndex: 0, yAxisIndex: 0, barWidth: 62,
  data: barSizes.map((v, i) => ({ value: v, itemStyle: { color: barColors[i] } }))
}];

panels.forEach((p, k) => {
  const gi = k + 1;
  grids.push(p.grid);
  xAxes.push({
    gridIndex: gi, type: 'value', min: -15, max: 15, interval: 5,
    axisLine: axisLine, axisTick: axisTick, splitLine: { show: false },
    axisLabel: { color: '#111', fontSize: 16, fontFamily: FONT, margin: 7, formatter: minus },
    name: p.xName ? 'Log{sub|2}(fold change)' : '', nameLocation: 'middle', nameGap: 36,
    nameTextStyle: { color: '#111', fontSize: 17, fontFamily: FONT, rich: subRich }
  });
  yAxes.push({
    gridIndex: gi, type: 'value', min: 0, max: 8, interval: 2,
    axisLine: axisLine, axisTick: axisTick, splitLine: { show: false },
    axisLabel: { color: '#111', fontSize: 16, fontFamily: FONT, margin: 6 },
    name: p.yName ? '\u2212Log{sub|10}({it|p}-value)' : '', nameLocation: 'middle', nameRotate: 90, nameGap: 30,
    nameTextStyle: { color: '#111', fontSize: 17, fontFamily: FONT, rich: subRich }
  });
  const base = { type: 'scatter', xAxisIndex: gi, yAxisIndex: gi, symbol: 'circle', symbolSize: 4.5 };
  series.push(Object.assign({}, base, {
    name: legendNames[2], data: p.ns, symbolSize: 5, itemStyle: { color: NS_COLOR }, z: 2,
    markLine: {
      silent: true, symbol: ['none', 'none'], label: { show: false },
      lineStyle: { color: '#000', type: [6, 4], width: 1.3 },
      data: [{ xAxis: -1 }, { xAxis: 1 }, { yAxis: 1.3 }]
    }
  }));
  series.push(Object.assign({}, base, { name: legendNames[1], data: p.down, itemStyle: { color: DOWN_COLOR }, z: 3 }));
  series.push(Object.assign({}, base, { name: legendNames[0], data: p.up, itemStyle: { color: UP_COLOR }, z: 3 }));
});

const chart = echarts.init(document.getElementById('chart'));
chart.setOption({
  animation: false,
  backgroundColor: '#fff',
  textStyle: { fontFamily: FONT },
  grid: grids,
  xAxis: xAxes,
  yAxis: yAxes,
  legend: {
    data: legendNames, left: 641, top: 628, icon: 'circle', itemWidth: 6, itemHeight: 6, itemGap: 22,
    textStyle: { color: '#111', fontSize: 16, fontFamily: FONT },
    borderColor: '#000', borderWidth: 1.2, padding: [4, 9, 8, 9]
  },
  graphic: graphics,
  series: series
});
</script>
</body>
</html>
